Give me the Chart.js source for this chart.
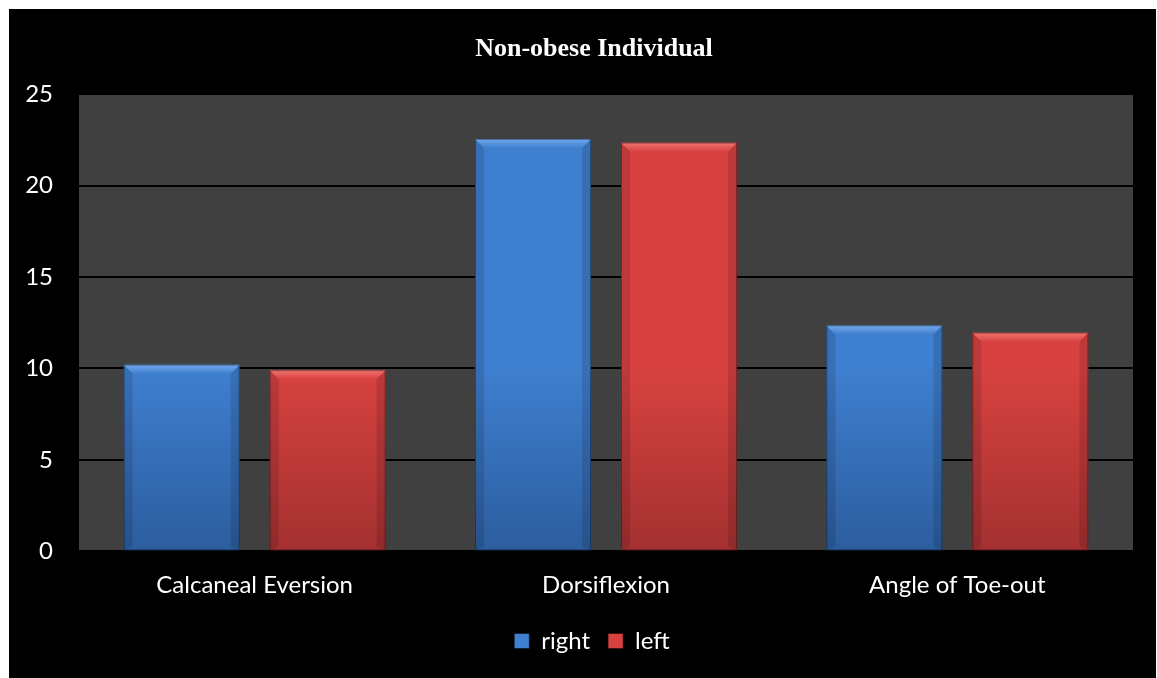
<!DOCTYPE html>
<html>
<head>
<meta charset="utf-8">
<script src="https://cdn.jsdelivr.net/npm/chart.js@4"></script>
<style>
  html, body { margin: 0; padding: 0; background: #fff; }
  #wrap { position: absolute; left: 9px; top: 9px; width: 1147px; height: 669px; background: #000; }
</style>
</head>
<body>
<div id="wrap"><canvas id="chart"></canvas></div>
<script>
(function () {
  "use strict";

  // values
  const categories = ["Calcaneal Eversion", "Dorsiflexion", "Angle of Toe-out"];
  const rightValues = [10.2, 22.55, 12.35];
  const leftValues = [9.9, 22.35, 11.95];
  const yTicks = [0, 5, 10, 15, 20, 25];

  const BLUE = { main: "#3f7fcf", top: "#74aaee", dark: "#2c5d9e" };
  const RED = { main: "#d74240", top: "#f27470", dark: "#a33130" };

  // vertical gradient over the plot area, lighter up top like the Excel bevel
  function barFill(col) {
    return function (ctx) {
      const ca = ctx.chart.chartArea;
      if (!ca) return col.main;
      const g = ctx.chart.ctx.createLinearGradient(0, ca.top, 0, ca.bottom);
      g.addColorStop(0, col.main);
      g.addColorStop(0.6, col.main);
      g.addColorStop(1, col.dark);
      return g;
    };
  }

  // dark plot background
  const plotBg = {
    id: "plotBg",
    beforeDraw(chart) {
      const { ctx, chartArea: a } = chart;
      ctx.save();
      ctx.fillStyle = "#404040";
      ctx.fillRect(a.left, a.top, a.right - a.left, a.bottom - a.top);
      ctx.restore();
    }
  };

  // excel centres title/legend a bit right of the canvas middle; nudge the boxes
  const nudge = {
    id: "nudge",
    afterLayout(chart) {
      const t = chart.titleBlock, lg = chart.legend;
      if (t) { t.left += 23; t.right += 23; }
      if (lg) { lg.left += 21; lg.right += 21; lg.top -= 9; lg.bottom -= 9; }
    }
  };

  // bevel edges on each bar
  const bevel = {
    id: "bevel",
    afterDatasetsDraw(chart) {
      const ctx = chart.ctx;
      const cols = [BLUE, RED];
      chart.data.datasets.forEach(function (ds, i) {
        const meta = chart.getDatasetMeta(i);
        meta.data.forEach(function (bar) {
          const l = bar.x - bar.width / 2, r = bar.x + bar.width / 2;
          const t = bar.y, b = bar.base, e = 9;
          ctx.save();
          // top band
          const g = ctx.createLinearGradient(0, t, 0, t + e);
          g.addColorStop(0, cols[i].top);
          g.addColorStop(1, cols[i].main);
          ctx.fillStyle = g;
          ctx.beginPath();
          ctx.moveTo(l, t); ctx.lineTo(r, t); ctx.lineTo(r - e, t + e); ctx.lineTo(l + e, t + e);
          ctx.closePath(); ctx.fill();
          // sides
          ctx.fillStyle = "rgba(0,0,0,0.12)";
          ctx.beginPath();
          ctx.moveTo(l, t); ctx.lineTo(l + e, t + e); ctx.lineTo(l + e, b - 4); ctx.lineTo(l, b);
          ctx.closePath(); ctx.fill();
          ctx.beginPath();
          ctx.moveTo(r, t); ctx.lineTo(r - e, t + e); ctx.lineTo(r - e, b - 4); ctx.lineTo(r, b);
          ctx.closePath(); ctx.fill();
          ctx.strokeStyle = "rgba(0,0,0,0.35)";
          ctx.lineWidth = 1;
          ctx.strokeRect(l + 0.5, t + 0.5, r - l - 1, b - t - 1);
          ctx.restore();
        });
      });
    }
  };

  const txt = "#ffffff";
  const font = { family: "Lato, 'Open Sans', sans-serif", size: 24 };

  new Chart(document.getElementById("chart"), {
    type: "bar",
    data: {
      labels: categories,
      datasets: [
        { label: "right", data: rightValues, backgroundColor: barFill(BLUE), legendColor: BLUE.main },
        { label: "left", data: leftValues, backgroundColor: barFill(RED), legendColor: RED.main }
      ]
    },
    options: {
      responsive: true,
      maintainAspectRatio: false,
      devicePixelRatio: 1,
      animation: false,
      barPercentage: 0.795,
      categoryPercentage: 0.831,
      layout: { padding: { left: 0, right: 23, top: 0, bottom: 6 } },
      scales: {
        y: {
          min: 0,
          max: 25,
          afterBuildTicks(s) { s.ticks = yTicks.map(v => ({ value: v })); },
          afterFit(s) { s.width = 70; },
          ticks: { color: txt, font, padding: 26 },
          grid: { color: "#000", lineWidth: 2, drawTicks: false },
          border: { display: false }
        },
        x: {
          ticks: { color: txt, font, padding: 20 },
          grid: { display: false, drawTicks: false },
          border: { display: false }
        }
      },
      plugins: {
        title: {
          display: true,
          text: "Non-obese Individual",
          color: txt,
          font: { family: "'Liberation Serif', 'Times New Roman', serif", size: 26, weight: "bold" },
          padding: { top: 25, bottom: 29 }
        },
        legend: {
          position: "bottom",
          labels: {
            color: txt,
            font,
            boxWidth: 15,
            boxHeight: 15,
            padding: 18,
            generateLabels(chart) {
              return chart.data.datasets.map((ds, i) => ({
                text: ds.label,
                fillStyle: ds.legendColor,
                strokeStyle: "rgba(0,0,0,0.4)",
                lineWidth: 1,
                fontColor: txt,
                hidden: false,
                datasetIndex: i
              }));
            }
          }
        },
        tooltip: { enabled: false }
      }
    },
    plugins: [plotBg, nudge, bevel]
  });
})();
</script>
</body>
</html>
